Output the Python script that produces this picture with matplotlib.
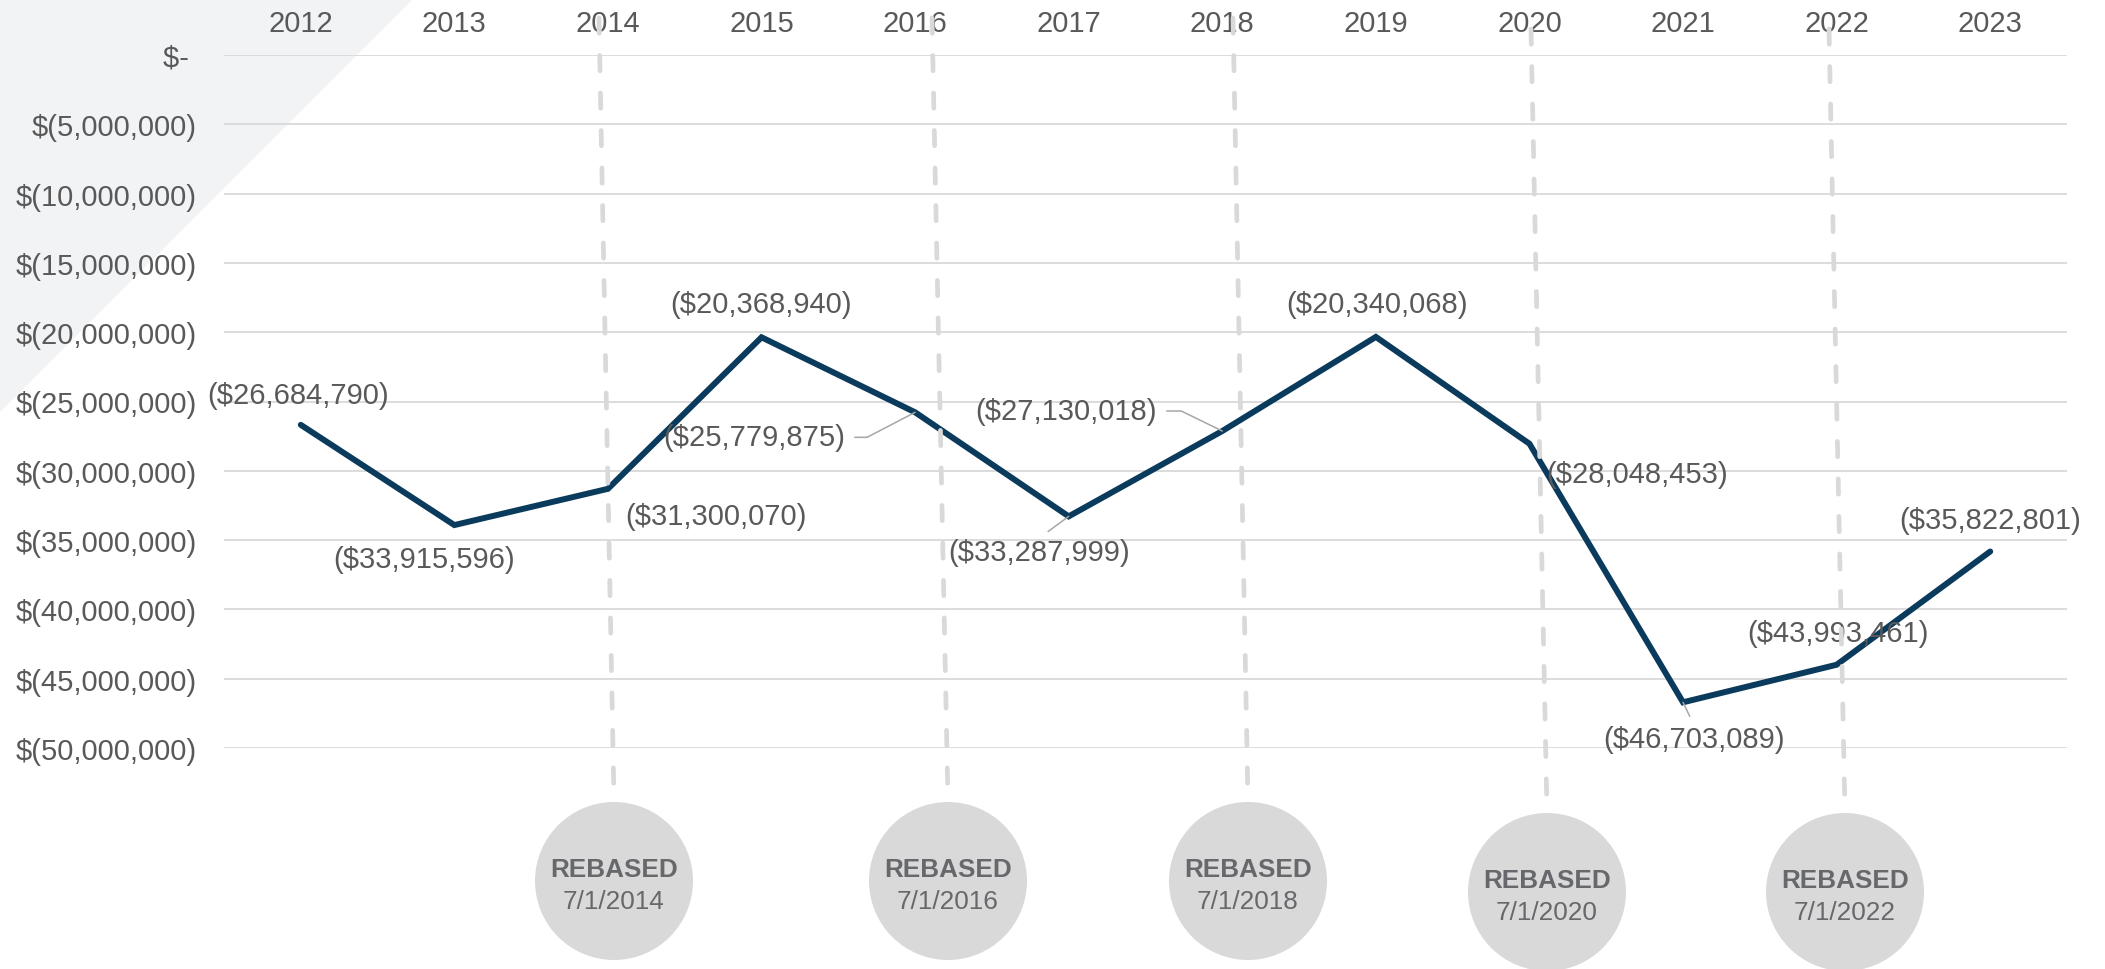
import matplotlib
matplotlib.use("Agg")
import matplotlib.pyplot as plt
from matplotlib.patches import Polygon, Ellipse
from matplotlib.lines import Line2D

plt.rcParams['font.family'] = ['Liberation Sans', 'DejaVu Sans']
plt.rcParams['text.parse_math'] = False
plt.rcParams['lines.scale_dashes'] = False

# ---------------- data ----------------
years = ['2012', '2013', '2014', '2015', '2016', '2017', '2018', '2019',
         '2020', '2021', '2022', '2023']
values = [-26684790, -33915596, -31300070, -20368940, -25779875, -33287999,
          -27130018, -20340068, -28048453, -46703089, -43993461, -35822801]
y_ticks = [0, -5000000, -10000000, -15000000, -20000000, -25000000,
           -30000000, -35000000, -40000000, -45000000, -50000000]
y_tick_labels = ['$- ', '$(5,000,000)', '$(10,000,000)', '$(15,000,000)',
                 '$(20,000,000)', '$(25,000,000)', '$(30,000,000)',
                 '$(35,000,000)', '$(40,000,000)', '$(45,000,000)',
                 '$(50,000,000)']
rebase_dates = ['7/1/2014', '7/1/2016', '7/1/2018', '7/1/2020', '7/1/2022']

# ---------------- style ----------------
W, H = 2105, 970
DPI = 100
NAVY = '#0a3a5c'
TXT = '#595959'
GRID = '#d9d9d9'
DASH = '#d9d9d9'
CIRC = '#d9d9d9'
CIRC_TXT = '#67686b'
FS = 21

fig = plt.figure(figsize=(W / DPI, H / DPI), dpi=DPI)
fig.patch.set_facecolor('white')

def fx(x):
    return x / W

def fy(y):
    return 1 - y / H

# background triangle (top-left)
tri = Polygon([(fx(0), fy(0)), (fx(413), fy(0)), (fx(0), fy(413))],
              closed=True, transform=fig.transFigure, facecolor='#f2f3f5',
              edgecolor='none', zorder=-5)
fig.add_artist(tri)

ax = fig.add_axes([fx(224), fy(749), fx(2067) - fx(224), fy(56) - fy(749)])
ax.set_facecolor('none')
for s in ax.spines.values():
    s.set_visible(False)

x = list(range(len(years)))
ax.plot(x, values, color=NAVY, lw=4.3, solid_capstyle='round',
        solid_joinstyle='miter', zorder=3)

ax.set_xlim(-0.5, len(years) - 0.5)
ax.set_ylim(-50000000, 0)
ax.set_yticks(y_ticks)
ax.set_yticklabels(y_tick_labels)
ax.set_xticks(x)
ax.set_xticklabels(years)
ax.xaxis.tick_top()
ax.tick_params(axis='x', length=0, pad=13, labelsize=FS, labelcolor=TXT)
ax.tick_params(axis='y', length=0, pad=19.5, labelsize=FS, labelcolor=TXT)
ax.yaxis.grid(True, color=GRID, lw=1.3)
ax.xaxis.grid(False)
ax.set_axisbelow(True)

# data labels (offsets in pixels) + leader line specs
label_offsets = [(-3, 30), (-30, -34), (108, -27), (-1, 33), (-161, -25),
                 (-30, -36), (-156, 20), (1, 33), (108, -30), (11, -37),
                 (1, 32), (0, 32)]
leaders = {4: ((1, 0.5), "angle,angleA=0,angleB=27.5,rad=0"),
           5: ((0.5, 1), "arc3,rad=0"),
           6: ((1, 0.5), "angle,angleA=0,angleB=-26,rad=0"),
           9: ((0.5, 1), "arc3,rad=0")}
for i, v in enumerate(values):
    txt = '(${:,.0f})'.format(abs(v))
    dx, dy = label_offsets[i]
    kw = {}
    if i in leaders:
        rel, cs = leaders[i]
        kw['arrowprops'] = dict(arrowstyle='-', color='#a6a6a6', lw=1.1,
                                relpos=rel, connectionstyle=cs,
                                shrinkA=5, shrinkB=0)
    ax.annotate(txt, xy=(i, v), xytext=(dx, dy), textcoords='offset pixels',
                ha='center', va='center', fontsize=FS, color=TXT,
                zorder=4, **kw)

# rebase markers: dashed lines (slightly slanted) + circles
marker_geom = [  # (top_x, top_y, bottom_x, circle_cy)
    (599, 19, 614, 882),
    (932, 19, 948, 882),
    (1233, 19, 1248, 882),
    (1531, 30, 1547, 893),
    (1829, 30, 1845, 893),
]
R = 79
for (tx, ty, bx, cy), date in zip(marker_geom, rebase_dates):
    ln = Line2D([fx(tx), fx(bx)], [fy(ty), fy(cy - R)],
                transform=fig.transFigure, color=DASH, lw=3.4,
                dashes=(11, 16), dash_capstyle='round', zorder=5)
    fig.add_artist(ln)
    circ = Ellipse((fx(bx), fy(cy)), width=2 * R / W, height=2 * R / H,
                   transform=fig.transFigure, facecolor=CIRC,
                   edgecolor='none', zorder=6)
    fig.add_artist(circ)
    fig.text(fx(bx), fy(cy - 5), 'REBASED', ha='center', va='baseline',
             fontsize=18.8, fontweight='bold', color=CIRC_TXT, zorder=7)
    fig.text(fx(bx), fy(cy + 27), date, ha='center', va='baseline',
             fontsize=18.8, color=CIRC_TXT, zorder=7)

fig.savefig('out.png', dpi=DPI, facecolor='white')
